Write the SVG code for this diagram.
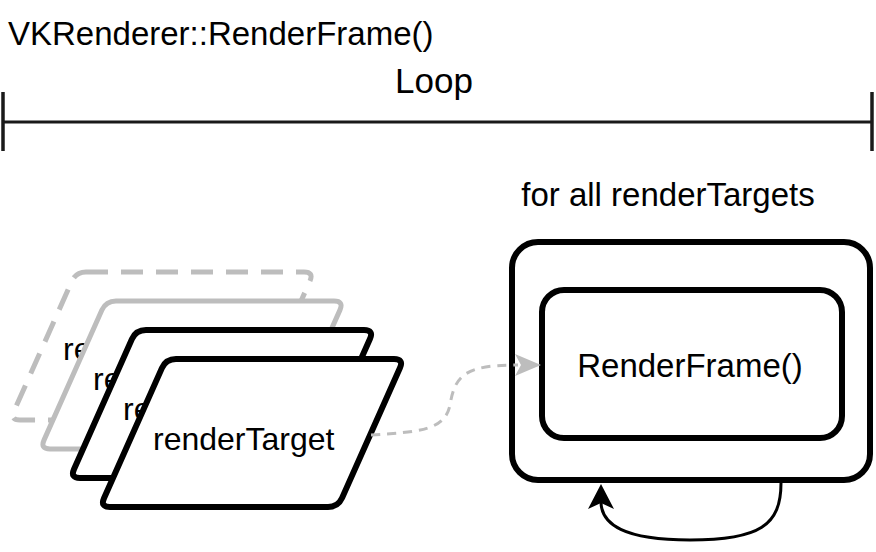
<svg xmlns="http://www.w3.org/2000/svg" xmlns:xlink="http://www.w3.org/1999/xlink" width="876" height="552" viewBox="0 0 876 552">
<style>
  text { font-family: "Liberation Sans", Arial, sans-serif; fill: #000; }
  .t33 { font-size: 33px; }
  .t32 { font-size: 32px; }
  .blk { fill: #fff; stroke: #000; stroke-width: 6; }
  .gry { fill: #fff; stroke: #bdbdbd; stroke-width: 5; }
  .gdash { fill: #fff; stroke: #bdbdbd; stroke-width: 5; stroke-dasharray: 22 13; }
  .axis { stroke: #1a1a1a; stroke-width: 3; fill: none; }
  .conn-dash { stroke: #bdbdbd; stroke-width: 3; fill: none; stroke-dasharray: 9 7; }
  .conn-loop { stroke: #000; stroke-width: 3; fill: none; }
</style>
<defs>
  <path id="para" d="M176,359 L394,359 Q404,359 399.9,368.1 L342.1,497.9 Q338,507 328,507 L110,507 Q100,507 104.1,497.9 L161.9,368.1 Q166,359 176,359 Z"/>
</defs>

<g id="title">
  <text class="t33" x="8" y="45">VKRenderer::RenderFrame()</text>
</g>

<g id="loop-axis">
  <line class="axis" x1="3" y1="122" x2="872" y2="122"/>
  <line class="axis" x1="3" y1="92" x2="3" y2="151" style="stroke-width:3.5"/>
  <line class="axis" x1="872" y1="92" x2="872" y2="151" style="stroke-width:3.5"/>
  <text x="434" y="93" text-anchor="middle" style="font-size:35px">Loop</text>
</g>

<g id="renderTarget-4">
  <use xlink:href="#para" class="gdash" transform="translate(-90,-87)"/>
  <text class="t32" x="63" y="360">renderTarget</text>
</g>
<g id="renderTarget-3">
  <use xlink:href="#para" class="gry" transform="translate(-60,-58)"/>
  <text class="t32" x="93" y="390">renderTarget</text>
</g>
<g id="renderTarget-2">
  <use xlink:href="#para" class="blk" transform="translate(-30,-29)"/>
  <text class="t32" x="123" y="420">renderTarget</text>
</g>
<g id="renderTarget-1">
  <use xlink:href="#para" class="blk"/>
  <text class="t32" x="153" y="450">renderTarget</text>
</g>

<g id="forall">
  <rect class="blk" x="512" y="242" width="358" height="238" rx="26" ry="26"/>
  <text class="t33" x="668" y="206" text-anchor="middle">for all renderTargets</text>
</g>
<g id="renderFrame">
  <rect class="blk" x="542" y="290" width="300" height="148" rx="22" ry="22"/>
  <text class="t33" x="690" y="377" text-anchor="middle">RenderFrame()</text>
</g>

<g id="connectors">
  <path class="conn-dash" d="M371,435 C420,432 445,430 450,405 C455,375 465,365 518,365"/>
  <path d="M515,354 L541,365 L515,376 L521,365 Z" fill="#bdbdbd"/>
  <path class="conn-loop" d="M781,483 C781,525 760,540 690,540 C625,540 600,525 601,500"/>
  <path d="M601,484 L614,509 L601,503 L588,509 Z" fill="#000"/>
</g>
</svg>
